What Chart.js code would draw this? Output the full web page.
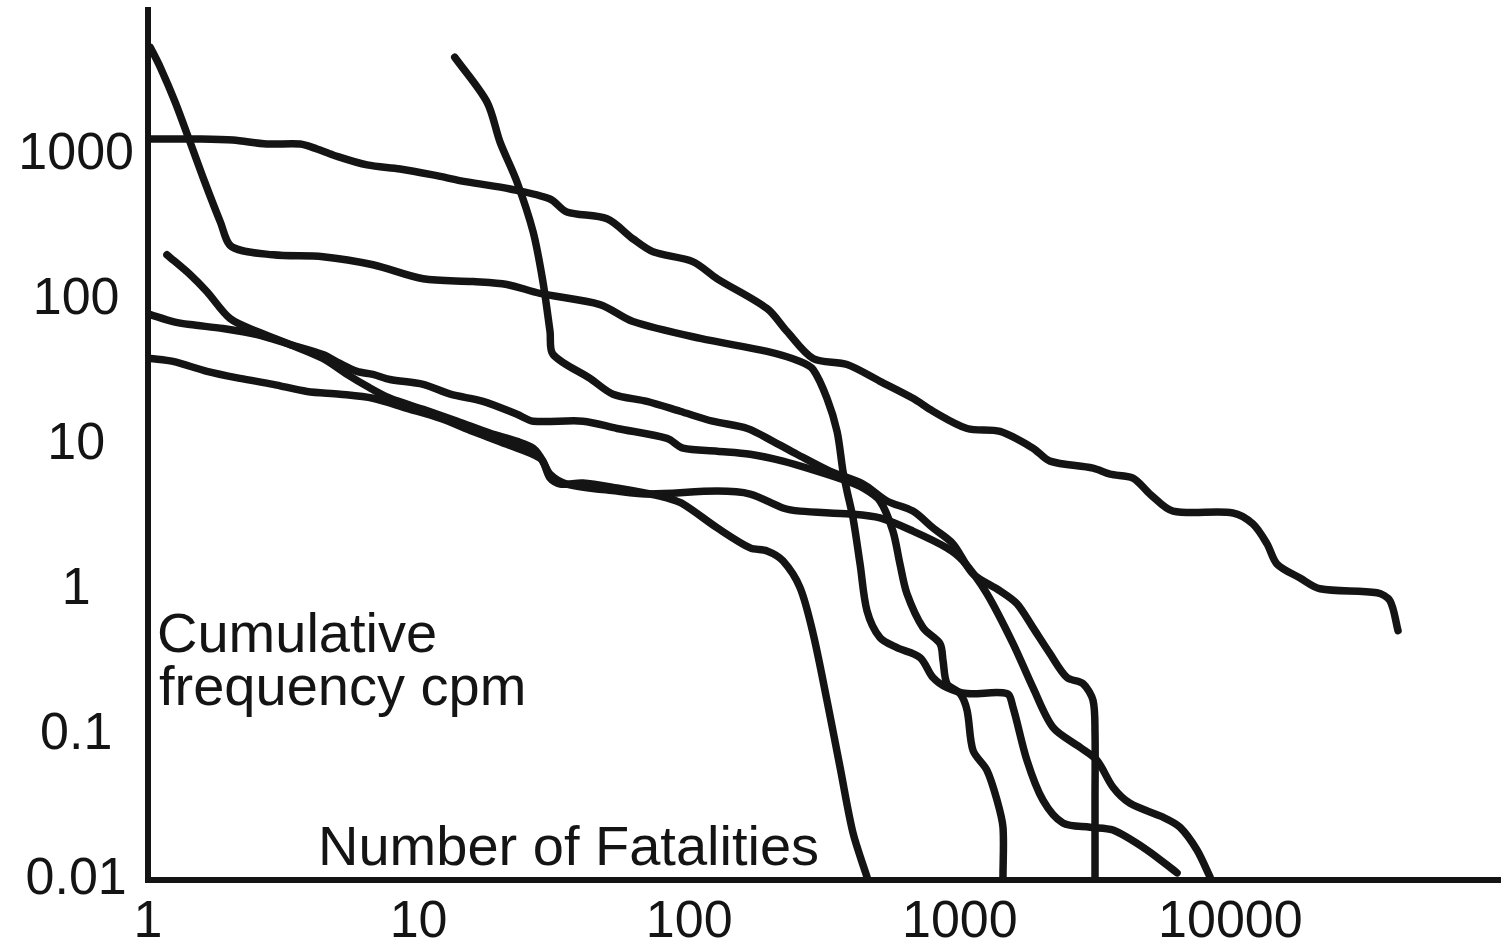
<!DOCTYPE html>
<html>
<head>
<meta charset="utf-8">
<script src="https://cdn.jsdelivr.net/npm/chart.js@4.4.1/dist/chart.umd.min.js"></script>
<style>
  html, body { margin: 0; padding: 0; background: #ffffff; }
  #wrap { width: 1501px; height: 950px; }
</style>
</head>
<body>
<div id="wrap"><canvas id="c" width="1501" height="950"></canvas></div>
<script>
// ---- tick labels ----
const xTickValues = [1, 10, 100, 1000, 10000];
const xTickLabels = ['1', '10', '100', '1000', '10000'];
const yTickValues = [0.01, 0.1, 1, 10, 100, 1000];
const yTickLabels = ['0.01', '0.1', '1', '10', '100', '1000'];

// ---- axis / annotation texts ----
const yTitleLines = ['Cumulative', 'frequency cpm'];
const xTitle = 'Number of Fatalities';

// ---- curve: starts ~5000 at 1 fatality ----
const curveA_x = [1.02,1.11,1.26,1.43,1.62,1.85,2.04,2.9,4.43,6.78,10.4,15.9,21.2,28.1,46.8,62,110,194,257,287,323,352,370,383,403,428,454,507,586,713,796,897,1064,1494,1573,1771,2029,2405,3027,3683,4920,6350];
const curveA_y = [5530,4030,2316,1228,652,346,233,205,199,175,140,134,128,111,93,71,54.3,44.2,37.7,33.2,21.0,12.4,6.6,4.81,3.14,1.51,0.72,0.469,0.40,0.342,0.249,0.212,0.193,0.193,0.155,0.0668,0.0355,0.0247,0.0231,0.0221,0.0161,0.0112];

// ---- curve: starts ~1300 at 1 fatality, long tail ----
const curveB_x = [1.02,1.557,2.06,2.75,3.65,4.21,4.83,6.45,8.54,11.3,15.1,21.8,30.6,35.3,49.7,62,73.5,103,127,194,230,287,383,507,671,796,1064,1408,1864,2154,3107,3589,4365,5046,6137,10220,12120,13660,14870,18080,21440,34820,38890,41640];
const curveB_y = [1288,1288,1268,1191,1191,1100,1000,854,801,729,652,583,498,405,363,264,215,184,140,87.3,60.6,39.5,35.9,27.5,21.0,17.1,13.0,12.4,9.51,7.74,6.92,6.29,5.91,4.59,3.50,3.40,2.85,2.08,1.51,1.21,1.02,0.957,0.843,0.524];

// ---- curve: starts ~4700 at ~14 fatalities ----
const curveT_x = [13.6,17.9,20.0,23.1,26.5,28.8,30.6,31.4,43.0,52.3,69.8,92.5,122,164,204,250,331,439,538,671,796,944,1119,1408,1627,1864,2154,2490,2853,3107,3160,3160,3160];
const curveT_y = [4720,2316,1228,652,295,134,60.6,42.1,28.8,22.4,20.0,17.1,14.6,13.0,10.6,8.64,6.6,5.38,4.11,3.50,2.68,2.08,1.29,0.987,0.804,0.550,0.364,0.249,0.226,0.173,0.1026,0.0355,0.0105];

// ---- curve: starts ~200 ----
const curveC_x = [1.175,1.43,1.652,2.01,2.53,3.35,4.43,5.44,6.45,7.84,10.4,13.9,18.4,23.1,26.5,28.8,30.6,33.3,40.5,54.1,71.7,82.8,94.9,127,168,194,222,257,287,323,361,403,454];
const curveC_y = [205,150,114,74.5,60.6,49.3,39.5,30.7,25.4,21.0,17.6,14.6,12.05,10.6,9.51,7.74,5.91,5.38,5.46,5.05,4.59,4.31,3.92,2.68,1.95,1.86,1.59,1.035,0.50,0.173,0.0599,0.0211,0.0105];

// ---- curve: starts ~80 ----
const curveD_x = [1.02,1.237,1.43,1.893,2.53,3.35,4.43,5.12,5.92,6.78,7.84,10.4,13.1,17.3,23.1,26.5,40.5,54.1,82.8,94.9,127,168,222,297,383,439,507,566,601,638,731,845,867,897,1002,1064,1119,1260,1373,1444,1444];
const curveD_y = [79.3,71,67.7,63.6,57.8,49.3,42.1,36.5,32.2,30.7,28.3,26.2,22.4,20.0,16.3,14.6,14.6,13.0,11.1,9.51,9.07,8.64,7.74,6.6,5.64,5.05,4.11,2.55,1.51,0.942,0.550,0.427,0.326,0.226,0.193,0.1476,0.0784,0.0571,0.0355,0.0231,0.0105];

// ---- curve: starts ~40 ----
const curveE_x = [1.02,1.237,1.652,2.19,2.9,3.87,5.12,6.78,9.06,12.0,15.9,21.2,28.1,30.6,35.3,54.1,71.7,127,168,222,257,393,507,671,897,1027,1260,1573,1864,2210,2781,3214,3683,4256,5636,6512,7524,8407];
const curveE_y = [39.5,37.7,32.2,28.8,26.2,23.4,22.4,21.0,17.9,15.3,12.4,10.1,8.11,6.29,5.38,4.81,4.59,4.81,4.59,3.68,3.50,3.34,3.14,2.55,1.95,1.59,0.942,0.427,0.212,0.1128,0.0822,0.0668,0.0436,0.0338,0.0271,0.0231,0.0161,0.0105];

const curves = [
  [curveA_x, curveA_y],
  [curveB_x, curveB_y],
  [curveT_x, curveT_y],
  [curveC_x, curveC_y],
  [curveD_x, curveD_y],
  [curveE_x, curveE_y]
];

const FONT = '"Liberation Sans", Arial, Helvetica, sans-serif';
const INK = '#141414';

const datasets = curves.map(([xs, ys]) => ({
  data: xs.map((x, i) => ({ x: x, y: ys[i] })),
  showLine: true,
  borderColor: INK,
  borderWidth: 7.5,
  pointRadius: 0,
  pointHoverRadius: 0,
  tension: 0.3,
  borderCapStyle: 'round',
  borderJoinStyle: 'round',
  fill: false
}));

const textPlugin = {
  id: 'texts',
  afterDraw(chart) {
    const ctx = chart.ctx;
    ctx.save();
    ctx.fillStyle = INK;
    ctx.font = '56px ' + FONT;
    ctx.textAlign = 'left';
    ctx.textBaseline = 'alphabetic';
    ctx.fillText(yTitleLines[0], 157, 652);
    ctx.fillText(yTitleLines[1], 159, 705);
    ctx.fillText(xTitle, 318, 865);
    ctx.restore();
  }
};

function noPad(s) {
  s.paddingTop = 0; s.paddingBottom = 0; s.paddingLeft = 0; s.paddingRight = 0;
}

new Chart(document.getElementById('c'), {
  type: 'scatter',
  data: { datasets },
  options: {
    responsive: false,
    animation: false,
    devicePixelRatio: 1,
    layout: { padding: { top: 10, right: 0, bottom: 0, left: 0 } },
    plugins: { legend: { display: false }, tooltip: { enabled: false } },
    scales: {
      x: {
        type: 'logarithmic',
        min: 1,
        max: 100000,
        grid: { display: false, drawTicks: false, tickLength: 0 },
        border: { display: true, color: INK, width: 6 },
        afterBuildTicks: (s) => { s.ticks = xTickValues.map(v => ({ value: v })); },
        afterFit: (s) => { s.height = 70; noPad(s); },
        ticks: {
          autoSkip: false,
          maxRotation: 0,
          padding: 11,
          color: INK,
          font: { family: FONT, size: 52 },
          callback: (v) => { const i = xTickValues.indexOf(v); return i >= 0 ? xTickLabels[i] : ''; }
        }
      },
      y: {
        type: 'logarithmic',
        min: 0.01,
        max: 10000,
        grid: { display: false, drawTicks: false, tickLength: 0 },
        border: { display: true, color: INK, width: 6 },
        afterBuildTicks: (s) => { s.ticks = yTickValues.map(v => ({ value: v })); },
        afterFit: (s) => { s.width = 148; noPad(s); },
        ticks: {
          autoSkip: false,
          padding: 14,
          crossAlign: 'center',
          color: INK,
          font: { family: FONT, size: 52 },
          callback: (v) => { const i = yTickValues.indexOf(v); return i >= 0 ? yTickLabels[i] : ''; }
        }
      }
    }
  },
  plugins: [textPlugin]
});
</script>
</body>
</html>
